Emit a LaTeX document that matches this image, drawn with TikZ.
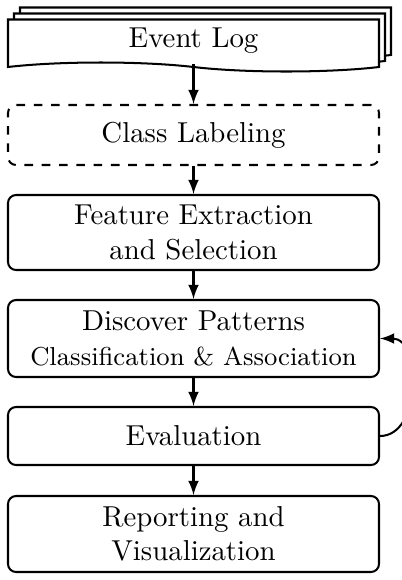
\documentclass[tikz,border=0pt]{standalone}
\usetikzlibrary{shapes.symbols,shadows}

\newlength{\du}
\setlength{\du}{0.347pt}

\tikzset{
  stepbox/.style={draw, rounded corners=2.8pt, line width=0.7pt, align=center,
    minimum width=371\du, fill=white},
  logdoc/.style={draw, tape, tape bend top=none, tape bend bottom=out and in,
    tape bend height=9\du, line width=0.7pt, fill=white, minimum width=371\du,
    minimum height=52\du, inner sep=0pt},
  flow/.style={-latex, line width=0.7pt},
}

\begin{document}
\begin{tikzpicture}
\useasboundingbox (0\du,0\du) rectangle (401\du,-580\du);
% event log (stacked documents)
\node[logdoc, double copy shadow={shadow xshift=6\du, shadow yshift=6\du}]
  (log) at (193.5\du,-41\du) {Event Log};
% process steps
\node[stepbox, dashed, minimum height=60\du] (label) at (193.5\du,-135\du) {Class Labeling};
\node[stepbox, minimum height=75\du] (feature) at (193.5\du,-232.5\du) {Feature Extraction\\and Selection};
\node[stepbox, minimum height=77\du] (discover) at (193.5\du,-338.5\du) {Discover Patterns\\{\small Classification \& Association}};
\node[stepbox, minimum height=58\du] (eval) at (193.5\du,-436\du) {Evaluation};
\node[stepbox, minimum height=76\du] (report) at (193.5\du,-534\du) {Reporting and\\Visualization};
% connectors
\draw[flow] (log.south) -- (label.north);
\draw[flow] (label) -- (feature);
\draw[flow] (feature) -- (discover);
\draw[flow] (discover) -- (eval);
\draw[flow] (eval) -- (report);
% feedback loop
\draw[flow] (eval.east) to[out=0, in=0, looseness=1.1] (discover.east);
\end{tikzpicture}
\end{document}
